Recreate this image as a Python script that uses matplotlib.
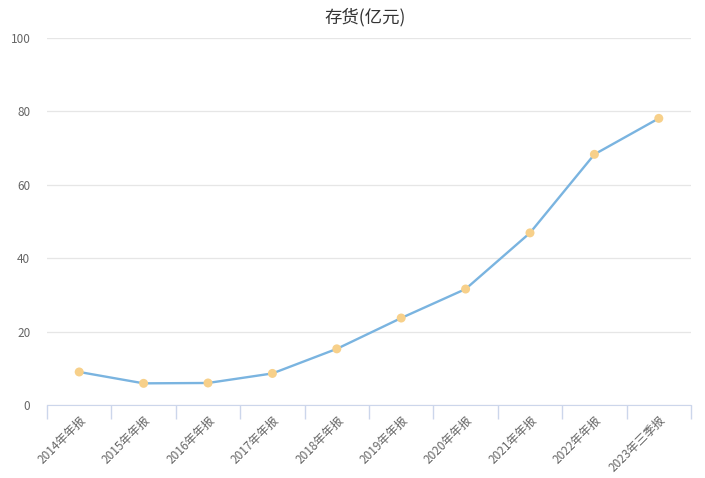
import matplotlib
matplotlib.use("Agg")
import matplotlib.pyplot as plt
import numpy as np

plt.rcParams['font.family'] = ['Noto Sans CJK SC', 'DejaVu Sans']

categories = ["2014年年报", "2015年年报", "2016年年报", "2017年年报", "2018年年报",
              "2019年年报", "2020年年报", "2021年年报", "2022年年报", "2023年三季报"]
values = [9.0, 5.9, 6.0, 8.6, 15.3, 23.7, 31.6, 46.9, 68.3, 78.1]
yticks = [0, 20, 40, 60, 80, 100]

fig = plt.figure(figsize=(7.05, 4.78), dpi=100)
ax = fig.add_axes([47/705, 1-405/478, (691-47)/705, (405-38)/478])

x = np.arange(len(categories))
ax.plot(x, values, color='#7ab4e0', lw=1.7, zorder=3)
ax.scatter(x, values, s=42, color='#f7d08a', zorder=4, edgecolors='none')

ax.set_xlim(-0.5, len(categories)-0.5)
ax.set_ylim(0, 100)
ax.set_yticks(yticks)
ax.set_yticklabels([str(v) for v in yticks], fontsize=8.5, color='#666666')
ax.grid(axis='y', color='#e6e6e6', lw=0.9, zorder=0)
ax.tick_params(axis='y', length=0, pad=12)

ax.set_xticks(x)
ax.set_xticklabels(categories, rotation=45, ha='right', rotation_mode='anchor',
                   fontsize=8.5, color='#666666')
ax.tick_params(axis='x', which='major', length=0, pad=6)
ax.set_xticks(np.arange(-0.5, len(categories), 1), minor=True)
ax.tick_params(axis='x', which='minor', length=10, color='#ccd6eb', width=1)

for s in ['top', 'right', 'left']:
    ax.spines[s].set_visible(False)
ax.spines['bottom'].set_color('#ccd6eb')

fig.text(365/705, 1-17/478, "存货(亿元)", ha='center', va='center', fontsize=12.5, color='#333333')

fig.savefig("out.png", dpi=100)
